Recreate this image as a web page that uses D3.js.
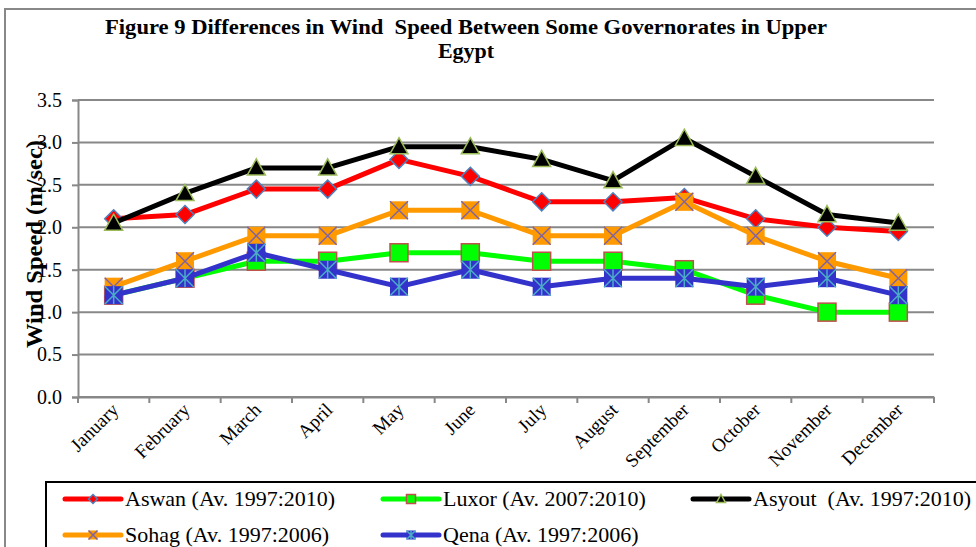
<!DOCTYPE html>
<html>
<head>
<meta charset="utf-8">
<script src="https://cdn.jsdelivr.net/npm/d3@7"></script>
<style>
  body { margin: 0; background: #fff; }
  svg { display: block; font-family: "Liberation Serif", serif; }
  text { white-space: pre; }
</style>
</head>
<body>
<svg id="chart" width="976" height="547"></svg>
<script>
const months = ['January', 'February', 'March', 'April', 'May', 'June', 'July', 'August', 'September', 'October', 'November', 'December'];
const yTicks = [0, 0.5, 1, 1.5, 2, 2.5, 3, 3.5];

const aswan = [2.1, 2.15, 2.45, 2.45, 2.8, 2.6, 2.3, 2.3, 2.35, 2.1, 2.0, 1.95];
const luxor = [1.2, 1.4, 1.6, 1.6, 1.7, 1.7, 1.6, 1.6, 1.5, 1.2, 1.0, 1.0];
const asyout = [2.05, 2.4, 2.7, 2.7, 2.95, 2.95, 2.8, 2.55, 3.05, 2.6, 2.15, 2.05];
const sohag = [1.3, 1.6, 1.9, 1.9, 2.2, 2.2, 1.9, 1.9, 2.3, 1.9, 1.6, 1.4];
const qena = [1.2, 1.4, 1.7, 1.5, 1.3, 1.5, 1.3, 1.4, 1.4, 1.3, 1.4, 1.2];

const series = [
  { name: 'Aswan (Av. 1997:2010)', values: aswan, color: '#ff0000', marker: 'diamond', fill: '#ff0000', edge: '#4f81bd' },
  { name: 'Luxor (Av. 2007:2010)', values: luxor, color: '#00ff00', marker: 'square', fill: '#00ff00', edge: '#c0504d' },
  { name: 'Asyout  (Av. 1997:2010)', values: asyout, color: '#000000', marker: 'triangle', fill: '#000000', edge: '#9bbb59' },
  { name: 'Sohag (Av. 1997:2006)', values: sohag, color: '#ff9900', marker: 'cross', fill: '#ff9900', edge: '#8064a2' },
  { name: 'Qena (Av. 1997:2006)', values: qena, color: '#3333cc', marker: 'star', fill: '#3333cc', edge: '#4bacc6' }
];

const svg = d3.select('#chart');
const plotLeft = 78, plotRight = 934, plotTop = 100, plotBottom = 397;

// outer frame (runs off the right and bottom edges)
svg.append('rect')
  .attr('x', 5).attr('y', 9).attr('width', 1000).attr('height', 600)
  .attr('fill', 'none').attr('stroke', '#888').attr('stroke-width', 2);

svg.append('text')
  .attr('x', 466).attr('y', 34)
  .attr('text-anchor', 'middle')
  .attr('font-weight', 'bold').attr('font-size', 22)
  .attr('textLength', 722).attr('lengthAdjust', 'spacingAndGlyphs')
  .text('Figure 9 Differences in Wind  Speed Between Some Governorates in Upper');
svg.append('text')
  .attr('x', 466).attr('y', 58)
  .attr('text-anchor', 'middle')
  .attr('font-weight', 'bold').attr('font-size', 22)
  .text('Egypt');

const x = d3.scaleBand().domain(months).range([plotLeft, plotRight]);
const y = d3.scaleLinear().domain([0, 3.5]).range([plotBottom, plotTop]);

// gridlines
svg.append('g').selectAll('line')
  .data(yTicks)
  .join('line')
  .attr('x1', plotLeft).attr('x2', plotRight)
  .attr('y1', d => y(d)).attr('y2', d => y(d))
  .attr('stroke', '#888').attr('stroke-width', 2);

const yAxis = svg.append('g')
  .attr('transform', `translate(${plotLeft},0)`)
  .call(d3.axisLeft(y).tickValues(yTicks).tickFormat(d3.format('.1f')).tickSize(6).tickPadding(10));
yAxis.selectAll('path, line').attr('stroke', '#888').attr('stroke-width', 2);
yAxis.selectAll('text').attr('font-size', 20).attr('font-family', '"Liberation Serif", serif').attr('fill', '#000');

const xAxis = svg.append('g')
  .attr('transform', `translate(0,${plotBottom})`)
  .call(d3.axisBottom(x).tickSize(0).tickFormat(''));
xAxis.select('path').attr('stroke', '#888').attr('stroke-width', 2);

// category boundary ticks
svg.append('g').selectAll('line')
  .data(months.concat(['end']))
  .join('line')
  .attr('x1', (d, i) => plotLeft + i * x.step()).attr('x2', (d, i) => plotLeft + i * x.step())
  .attr('y1', plotBottom).attr('y2', plotBottom + 6)
  .attr('stroke', '#888').attr('stroke-width', 2);

svg.append('g').selectAll('text')
  .data(months)
  .join('text')
  .attr('transform', d => `translate(${x(d) + x.bandwidth() / 2 + 6},${plotBottom + 14}) rotate(-45)`)
  .attr('text-anchor', 'end')
  .attr('font-size', 19)
  .text(d => d);

svg.append('text')
  .attr('transform', `translate(42,244) rotate(-90)`)
  .attr('text-anchor', 'middle')
  .attr('font-weight', 'bold').attr('font-size', 24)
  .attr('textLength', 208).attr('lengthAdjust', 'spacingAndGlyphs')
  .text('Wind Speed (m/sec)');

function drawMarker(g, type, s, fill, edge) {
  const h = s / 2;
  if (type === 'diamond') {
    g.append('path').attr('d', `M0,${-h}L${h},0L0,${h}L${-h},0Z`)
      .attr('fill', fill).attr('stroke', edge).attr('stroke-width', 1.5);
  } else if (type === 'square') {
    g.append('rect').attr('x', -h).attr('y', -h).attr('width', s).attr('height', s)
      .attr('fill', fill).attr('stroke', edge).attr('stroke-width', 1.5);
  } else if (type === 'triangle') {
    g.append('path').attr('d', `M0,${-h}L${h},${h * 0.8}L${-h},${h * 0.8}Z`)
      .attr('fill', fill).attr('stroke', edge).attr('stroke-width', 1.5);
  } else if (type === 'cross') {
    g.append('rect').attr('x', -h).attr('y', -h).attr('width', s).attr('height', s).attr('fill', fill);
    g.append('path').attr('d', `M${-h},${-h}L${h},${h}M${h},${-h}L${-h},${h}`)
      .attr('stroke', edge).attr('stroke-width', 1.5);
  } else if (type === 'star') {
    g.append('rect').attr('x', -h).attr('y', -h).attr('width', s).attr('height', s).attr('fill', fill);
    g.append('path').attr('d', `M${-h},${-h}L${h},${h}M${h},${-h}L${-h},${h}M0,${-h}L0,${h}`)
      .attr('stroke', edge).attr('stroke-width', 1.5);
  }
}

const line = d3.line()
  .x((d, i) => x(months[i]) + x.bandwidth() / 2)
  .y(d => y(d));

series.forEach(s => {
  const g = svg.append('g');
  g.append('path')
    .attr('d', line(s.values))
    .attr('fill', 'none').attr('stroke', s.color).attr('stroke-width', 5)
    .attr('stroke-linejoin', 'round');
  s.values.forEach((v, i) => {
    const m = g.append('g').attr('transform', `translate(${x(months[i]) + x.bandwidth() / 2},${y(v)})`);
    drawMarker(m, s.marker, 18, s.fill, s.edge);
  });
});

// legend
svg.append('rect')
  .attr('x', 46).attr('y', 482).attr('width', 1000).attr('height', 100)
  .attr('fill', '#fff').attr('stroke', '#000').attr('stroke-width', 2);

const legendPos = [[65, 499], [383, 499], [693, 499], [65, 535], [383, 535]];
series.forEach((s, i) => {
  const [lx, ly] = legendPos[i];
  const g = svg.append('g').attr('transform', `translate(${lx},${ly})`);
  g.append('line').attr('x1', 0).attr('x2', 56).attr('y1', 0).attr('y2', 0)
    .attr('stroke', s.color).attr('stroke-width', 5).attr('stroke-linecap', 'round');
  const m = g.append('g').attr('transform', 'translate(28,0)');
  drawMarker(m, s.marker, 9, s.fill, s.edge);
  g.append('text').attr('x', 60).attr('y', 7).attr('font-size', 22).text(s.name);
});
</script>
</body>
</html>
